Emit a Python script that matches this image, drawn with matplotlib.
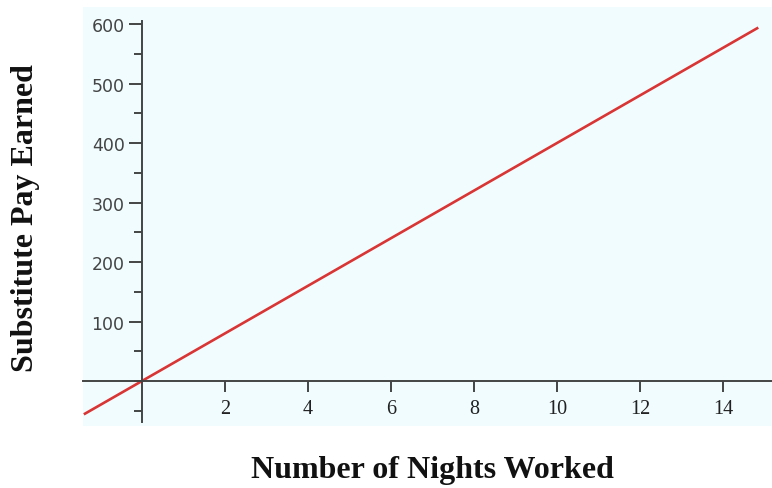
import matplotlib
matplotlib.use("Agg")
import matplotlib.pyplot as plt
from matplotlib.ticker import MultipleLocator

nights = [-1.4, 0, 14.85]
pay = [-56, 0, 594]
x_ticks = [2, 4, 6, 8, 10, 12, 14]
y_ticks = [100, 200, 300, 400, 500, 600]

fig = plt.figure(figsize=(7.72, 4.89), dpi=100)
ax = fig.add_axes([83/772, 62/489, 689/772, 419/489])
ax.set_facecolor('#f0fcfe')
ax.plot(nights, pay, color='#d93535', lw=1.9, solid_capstyle='butt')
ax.set_xlim(-1.42, 15.18)
ax.set_ylim(-75.6, 628.6)

for s in ['top', 'right']:
    ax.spines[s].set_visible(False)
ax.spines['left'].set_position(('data', 0))
ax.spines['bottom'].set_position(('data', 0))
ax.spines['left'].set_bounds(-69, 605)
for s in ['left', 'bottom']:
    ax.spines[s].set_color('#444444')
    ax.spines[s].set_linewidth(1.4)

ax.set_xticks(x_ticks)
ax.set_xticklabels([str(v) for v in x_ticks], family='Liberation Serif', fontsize=14.5, color='#222222')
ax.set_yticks(y_ticks)
ax.set_yticklabels([str(v) for v in y_ticks], family='DejaVu Sans', fontsize=12.5, color='#444444')
ax.yaxis.set_minor_locator(MultipleLocator(50))
ax.tick_params(axis='y', which='major', length=9.5, width=1.4, color='#444444', pad=3)
ax.tick_params(axis='y', which='minor', length=6, width=1.4, color='#444444')
ax.tick_params(axis='x', which='major', length=8, width=1.4, color='#444444', pad=5)

fig.text(432/772, 1 - 471/489, 'Number of Nights Worked', family='Liberation Serif',
         fontweight='bold', fontsize=23, ha='center', va='center', color='#111111')
fig.text(26/772, 1 - 218/489, 'Substitute Pay Earned', family='Liberation Serif',
         fontweight='bold', fontsize=23, ha='center', va='center', rotation=90, color='#111111')

fig.savefig('out.png', dpi=100)
